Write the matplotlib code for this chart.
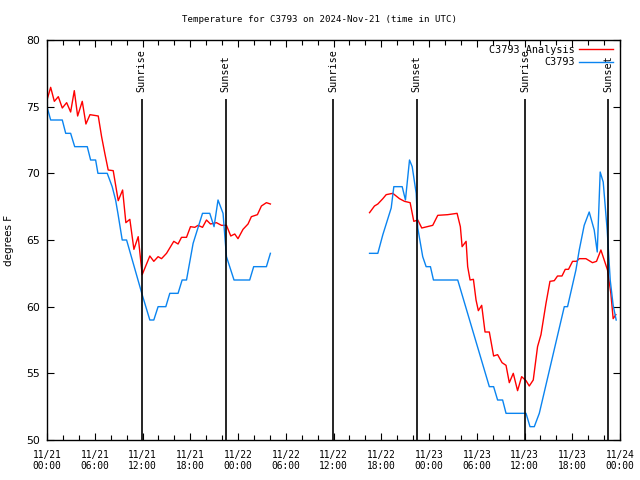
"""
    Temperature for C3793 : analysis vs. station readings, 2024-Nov-21..23 (UTC)
"""

import numpy as np
import matplotlib
matplotlib.use('Agg')
import matplotlib.pyplot as plt
from matplotlib.ticker import MultipleLocator, FixedLocator

# hours since 11/21 00:00 UTC, nan = no data
analysis_hours = [0.0, 0.46, 0.92, 1.42, 1.92, 2.47, 2.97, 3.43, 3.85, 4.43, 4.89, 5.40, 6.44, 6.86,
                  7.28, 7.69, 8.32, 8.95, 9.50, 9.91, 10.41, 10.92, 11.46, 11.96, 12.92, 13.42, 13.96,
                  14.39, 15.02, 15.93, 16.47, 16.90, 17.53, 18.03, 18.57, 18.98, 19.54, 20.04, 20.54,
                  21.29, 21.92, 22.55, 23.09, 23.59, 24.00, 24.63, 25.26, 25.68, 26.44, 26.94, 27.57,
                  28.07, np.nan,
                  40.53, 41.15, 41.57, 42.20, 42.62, 43.45, 44.29, 44.92, 45.63, 46.09, 46.59, 47.09,
                  48.47, 49.10, 50.35, 51.53, 51.94, 52.16, 52.66, 52.86, 53.16, 53.58, 53.91, 54.20,
                  54.62, 55.04, 55.58, 56.12, 56.62, 57.18, 57.68, 58.09, 58.59, 59.13, 59.64, 60.19,
                  60.60, 61.10, 61.64, 62.07, 62.70, 63.20, 63.74, 64.15, 64.71, 65.12, 65.53, 66.04,
                  66.54, 66.88, 67.72, 68.54, 69.05, 69.60, 70.43, 70.85, 71.14, 71.48]
analysis_temp = [75.5, 76.45, 75.4, 75.75, 74.9, 75.3, 74.6, 76.2, 74.3, 75.4, 73.7, 74.4, 74.3, 72.75,
                 71.45, 70.25, 70.2, 67.95, 68.75, 66.3, 66.55, 64.3, 65.25, 62.4, 63.8, 63.4, 63.75,
                 63.6, 64.0, 64.9, 64.7, 65.2, 65.2, 66.0, 65.95, 66.1, 65.95, 66.5, 66.2,
                 66.3, 66.1, 66.1, 65.3, 65.45, 65.1, 65.8, 66.2, 66.75, 66.9, 67.55, 67.8,
                 67.7, np.nan,
                 67.05, 67.55, 67.7, 68.1, 68.4, 68.5, 68.1, 67.9, 67.8, 66.4, 66.5, 65.9,
                 66.1, 66.85, 66.9, 67.0, 66.0, 64.5, 64.9, 63.0, 62.0, 62.05, 60.5, 59.7,
                 60.1, 58.1, 58.1, 56.3, 56.4, 55.8, 55.6, 54.3, 55.0, 53.7, 54.75, 54.45,
                 54.05, 54.5, 57.0, 57.9, 60.25, 61.9, 61.95, 62.3, 62.3, 62.8, 62.8, 63.4,
                 63.4, 63.6, 63.6, 63.3, 63.4, 64.25, 62.75, 61.0, 59.1, 59.4]

station_hours = [0.0, 0.46, 1.92, 2.35, 2.97, 3.48, 5.06, 5.48, 6.11, 6.40, 7.57, 8.19, 8.62, 8.91,
                 9.45, 10.0, 11.96, 12.92, 13.42, 13.96, 14.93, 15.43, 16.47, 16.98, 17.53, 18.36,
                 19.54, 20.45, 20.99, 21.49, 22.12, 22.55, 23.50, 25.47, 25.97, 27.57, 28.07, np.nan,
                 40.53, 41.57, 42.20, 43.25, 43.58, 44.63, 45.04, 45.55, 45.89, 46.39, 46.59, 47.21,
                 47.64, 48.18, 48.56, 51.61, 55.58, 56.12, 56.62, 57.25, 57.68, 60.19, 60.69, 61.23,
                 61.86, 65.0, 65.41, 66.46, 66.88, 67.50, 68.13, 68.76, 69.14, 69.51, 69.89, 70.39,
                 70.77, 71.14, 71.52]
station_temp = [75, 74, 74, 73, 73, 72, 72, 71, 71, 70, 70, 69, 68, 67,
                65, 65, 60.9, 59, 59, 60, 60, 61, 61, 62, 62, 64.75,
                67, 67, 66, 68, 67, 63.75, 62, 62, 63, 63, 64, np.nan,
                64, 64, 65.4, 67.4, 69, 69, 68, 71, 70.5, 68.5, 65.9, 63.75,
                63, 63, 62, 62, 54, 54, 53, 53, 52, 52, 51, 51,
                52, 60, 60, 62.75, 64.25, 66.1, 67.1, 65.75, 64.1, 70.1, 69.35, 65.75,
                62, 60.1, 59]

sun_events = [11.92, 22.46, 35.98, 46.44, 60.05, 70.50]
sun_labels = ['Sunrise', 'Sunset', 'Sunrise', 'Sunset', 'Sunrise', 'Sunset']

tick_days = ['11/21'] * 4 + ['11/22'] * 4 + ['11/23'] * 4 + ['11/24']
tick_times = ['00:00', '06:00', '12:00', '18:00'] * 3 + ['00:00']

MONO = 'DejaVu Sans Mono'

fig = plt.figure(figsize=(6.4, 4.8), dpi=100)
ax = fig.add_axes([47 / 640, 40 / 480, 573 / 640, 400 / 480])

ax.plot(analysis_hours, analysis_temp, color='#ff0000', lw=1.0, label='C3793 Analysis')
ax.plot(station_hours, station_temp, color='#0a84f0', lw=1.0, label='C3793')

# lignes lever / coucher du soleil
ax.vlines(sun_events, 50, 75.55, color='black', lw=1.2, zorder=3)
for t, lab in zip(sun_events, sun_labels):
    ax.text(t, 76.1, lab, rotation=90, ha='center', va='bottom', family=MONO, fontsize=7.3)

ax.set_xlim(0, 72)
ax.set_ylim(50, 80)

ticks = list(range(0, 73, 6))
ax.xaxis.set_major_locator(FixedLocator(ticks))
ax.set_xticklabels([d + '\n' + t for d, t in zip(tick_days, tick_times)], family=MONO, fontsize=6.9)
ax.xaxis.set_minor_locator(MultipleLocator(2))
ax.yaxis.set_major_locator(MultipleLocator(5))

ax.tick_params(which='both', direction='in', top=True, right=True, width=0.8)
ax.tick_params(which='major', length=5)
ax.tick_params(which='minor', length=3.5)
ax.tick_params(axis='x', pad=7)
ax.tick_params(axis='y', pad=5, labelsize=7.8)

for sp in ax.spines.values():
    sp.set_linewidth(1.0)

ax.set_ylabel('degrees F', fontsize=7.5)
ax.yaxis.set_label_coords(-0.058, 0.5)

fig.text(0.5, 1 - 20 / 480, 'Temperature for C3793 on 2024-Nov-21 (time in UTC)',
         ha='center', va='center', family=MONO, fontsize=6.6)

leg = ax.legend(loc='upper right', bbox_to_anchor=(0.988, 0.988), frameon=False, markerfirst=False,
                handlelength=3.4, handletextpad=0.4, labelspacing=0.25, borderaxespad=0, borderpad=0,
                prop={'family': MONO, 'size': 7.3})

fig.savefig('out.png', dpi=100)
